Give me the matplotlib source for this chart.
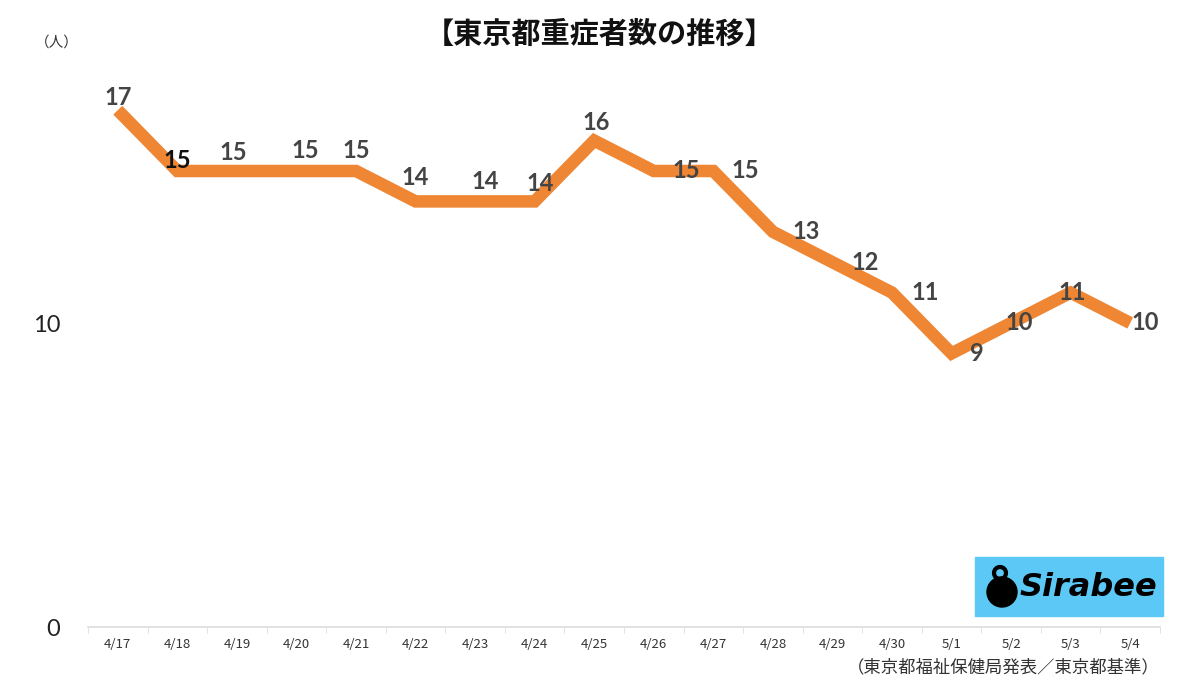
import matplotlib.pyplot as plt
from matplotlib.patches import Rectangle, Ellipse

plt.rcParams['font.family'] = ['Noto Sans CJK JP', 'DejaVu Sans']

dates = ['4/17', '4/18', '4/19', '4/20', '4/21', '4/22', '4/23', '4/24', '4/25',
         '4/26', '4/27', '4/28', '4/29', '4/30', '5/1', '5/2', '5/3', '5/4']
severe = [17, 15, 15, 15, 15, 14, 14, 14, 16, 15, 15, 13, 12, 11, 9, 10, 11, 10]
# label offsets in pixels (dx, dy) relative to each point
offsets = [(0, 13), (0, 10), (-4, 18), (9, 20), (0, 20), (0, 24), (10, 20), (6, 18),
           (2, 18), (33, 0), (32, 0), (33, 0), (33, 0), (33, 0), (25, 0), (8, 1),
           (2, 0), (15, 0)]

fig = plt.figure(figsize=(12, 6.89), dpi=100)
ax = fig.add_axes([88 / 1200, 1 - 627 / 689, (1160 - 88) / 1200, (627 - 19) / 689])

x = list(range(len(dates)))
ax.plot(x, severe, color='#EE8634', linewidth=9, solid_joinstyle='miter',
        solid_capstyle='butt')

for i, (v, (dx, dy)) in enumerate(zip(severe, offsets)):
    col = '#111111' if i == 1 else '#444444'
    ax.annotate(str(v), (i, v), xytext=(dx, dy), textcoords='offset pixels',
                ha='center', va='center', fontsize=17, color=col,
                family=['Lato', 'DejaVu Sans'], fontweight='bold')

ax.set_xlim(-0.5, len(dates) - 0.5)
ax.set_ylim(0, 20)
ax.set_yticks([0, 10])
ax.set_yticklabels(['0', '10'], fontsize=17, color='#222222', family=['Lato', 'DejaVu Sans'])
ax.tick_params(axis='y', length=0, pad=20)
ax.set_xticks(x)
ax.set_xticklabels(dates, fontsize=9.5, color='#333333')
ax.set_xticks([i - 0.5 for i in range(len(dates) + 1)], minor=True)
ax.tick_params(axis='x', which='major', length=0, pad=8)
ax.tick_params(axis='x', which='minor', length=4, color='#DDDDDD')
for s in ['top', 'right', 'left']:
    ax.spines[s].set_visible(False)
ax.spines['bottom'].set_color('#DDDDDD')
ax.spines['bottom'].set_linewidth(1.2)

fig.text(0.5, 1 - 34 / 689, '【東京都重症者数の推移】', ha='center', va='center',
         fontsize=21, fontweight='bold', color='#111111')
fig.text(57 / 1200, 1 - 43 / 689, '（人）', ha='center', va='center', fontsize=10.5,
         color='#333333')
fig.text(1160 / 1200, 1 - 667 / 689, '（東京都福祉保健局発表／東京都基準）', ha='right',
         va='center', fontsize=12.5, color='#333333')

# logo
fig.patches.append(Rectangle((975 / 1200, 1 - 616 / 689), 188 / 1200, 59 / 689,
                             transform=fig.transFigure, color='#5BC8F5', zorder=5))
fig.patches.append(Ellipse((1002 / 1200, 1 - 592 / 689), 30 / 1200, 30 / 689,
                           transform=fig.transFigure, color='black', zorder=6))
fig.patches.append(Ellipse((1000 / 1200, 1 - 573 / 689), 12 / 1200, 12 / 689,
                           transform=fig.transFigure, facecolor='none', edgecolor='black',
                           linewidth=3, zorder=6))
fig.text(1088 / 1200, 1 - 588 / 689, 'Sirabee', ha='center', va='center', fontsize=23,
         fontweight='bold', style='italic', color='black', family=['DejaVu Sans'], zorder=7)

fig.savefig('out.png', dpi=100, facecolor='white')
